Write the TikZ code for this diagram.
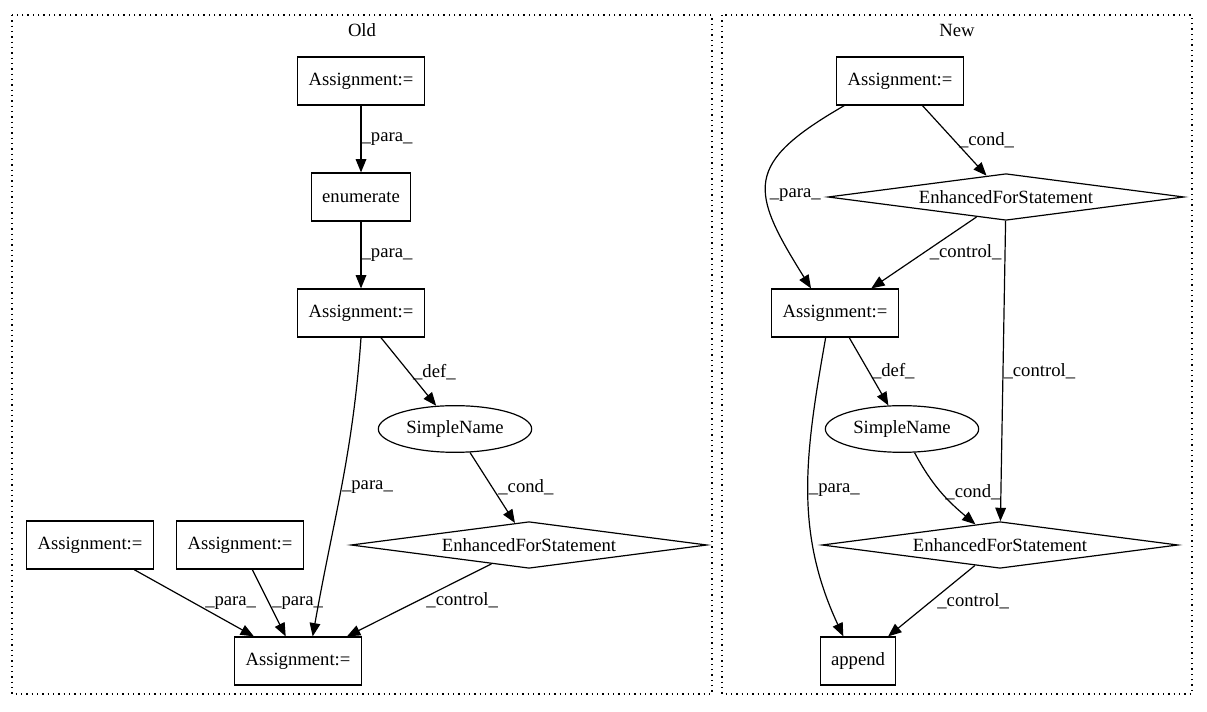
\documentclass[tikz,border=0pt]{standalone}
\usepackage{fontspec}
\setmainfont{Liberation Serif}
\usetikzlibrary{shapes.geometric, arrows.meta}

\begin{document}
\begin{tikzpicture}
    [
        x=0.75pt, y=-0.75pt,
        font=\fontsize{14}{16}\selectfont,
        box/.style={rectangle, draw, line width=0.9pt, minimum width=54pt,
                    minimum height=36pt, inner xsep=8pt},
        cond/.style={diamond, draw, line width=0.9pt, shape aspect=7.5,
                     inner sep=0pt, minimum width=267pt, minimum height=35pt},
        oval/.style={ellipse, draw, line width=0.9pt, minimum width=115pt,
                     minimum height=35pt, inner sep=0pt},
        cluster/.style={draw, line width=0.9pt, dash pattern=on 1pt off 3pt},
        edge/.style={-{Triangle[length=10pt, width=8pt]}, line width=0.9pt},
        lbl/.style={anchor=west, inner sep=0pt}
    ]
    \useasboundingbox (0,0) rectangle (1207,712);
    \draw[cluster] (12,15) rectangle (712,694);
    \draw[cluster] (722,15) rectangle (1192,694);
    \node (old) at (362,30) {Old};
    \node (new) at (957,30) {New};

    % old version
    \node (oa1) [box] at (361,81) {Assignment:=};
    \node (oenum) [box] at (361,197) {enumerate};
    \node (oa2) [box] at (361,313) {Assignment:=};
    \node (osn) [oval] at (455,429) {SimpleName};
    \node (oefs) [cond] at (529,545) {EnhancedForStatement};
    \node (oa3) [box] at (90,545) {Assignment:=};
    \node (oa4) [box] at (240,545) {Assignment:=};
    \node (oa5) [box] at (298,661) {Assignment:=};

    \draw[edge] (oa1) -- node[lbl] {\_para\_} (oenum);
    \draw[edge] (oenum) -- node[lbl] {\_para\_} (oa2);
    \draw[edge] (oa2.south) to[out=-94, in=80]
        node[lbl] {\_para\_} ([xshift=11pt]oa5.north);
    \draw[edge] (oa2) -- node[lbl, xshift=3pt] {\_def\_} (osn);
    \draw[edge] (osn) -- node[lbl, xshift=4pt] {\_cond\_} (oefs);
    \draw[edge] (oefs) -- node[lbl, xshift=5pt] {\_control\_} (oa5);
    \draw[edge] (oa3) -- node[lbl, xshift=8pt] {\_para\_} (oa5);
    \draw[edge] (oa4) -- node[lbl, xshift=2pt] {\_para\_} (oa5);

    % new version
    \node (na1) [box] at (900,81) {Assignment:=};
    \node (nefs1) [cond] at (1006,197) {EnhancedForStatement};
    \node (na2) [box] at (835,313) {Assignment:=};
    \node (nsn) [oval] at (902,429) {SimpleName};
    \node (nefs2) [cond] at (1000,545) {EnhancedForStatement};
    \node (napp) [box] at (858,661) {append};

    \draw[edge] (na1) -- node[lbl, xshift=3pt] {\_cond\_} (nefs1);
    \draw[edge] ([xshift=6pt]na1.south west) to[out=-150, in=122, looseness=1.6]
        node[lbl, pos=.58, xshift=2pt] {\_para\_} ([xshift=-18pt]na2.north);
    \draw[edge] (nefs1) -- node[lbl, xshift=4pt] {\_control\_} (na2);
    \draw[edge] (nefs1) -- node[lbl] {\_control\_} (nefs2);
    \draw[edge] (na2) -- node[lbl, xshift=2pt] {\_def\_} (nsn);
    \draw[edge] ([xshift=-7pt]na2.south) to[out=-100, in=115]
        node[lbl] {\_para\_} ([xshift=-11pt]napp.north);
    \draw[edge] (nsn) to[out=-62, in=140] node[lbl, xshift=3pt] {\_cond\_} (nefs2);
    \draw[edge] (nefs2) -- node[lbl, xshift=4pt] {\_control\_} (napp);
\end{tikzpicture}
\end{document}
